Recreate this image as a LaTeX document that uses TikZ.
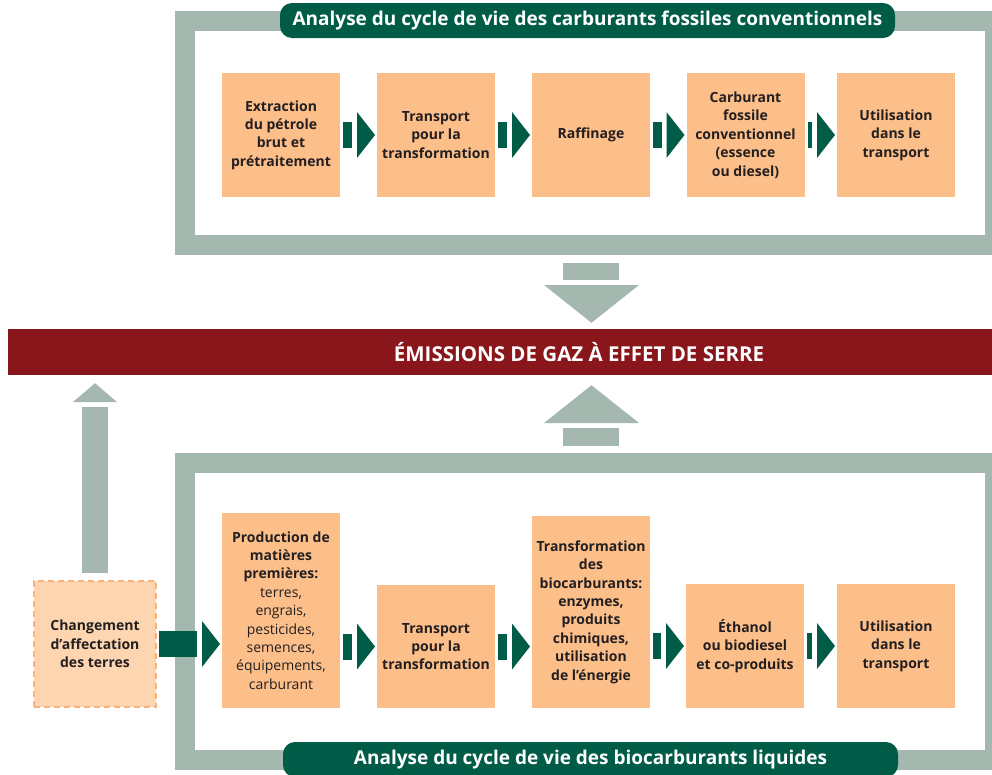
\documentclass[tikz,border=0pt]{standalone}
\usepackage{fontspec}
\setmainfont{Open Sans}
\usetikzlibrary{positioning,calc}
\definecolor{framegray}{RGB}{164,184,176}
\definecolor{lcagreen}{RGB}{0,92,70}
\definecolor{boxorange}{RGB}{252,191,138}
\definecolor{lucorange}{RGB}{253,214,177}
\definecolor{lucborder}{RGB}{248,178,122}
\definecolor{ghgred}{RGB}{137,22,27}
\definecolor{textdark}{RGB}{35,31,32}

\tikzset{
  lcaframe/.style={draw=framegray, line width=20pt, inner sep=0pt, outer sep=0pt, minimum width=810pt},
  lcatitle/.style={fill=lcagreen, rounded corners=12pt, minimum width=615pt, minimum height=35pt,
    inner sep=0pt, text=white, font=\fontsize{19}{21}\selectfont\bfseries},
  procbox/.style={fill=boxorange, minimum width=118pt, inner sep=0pt, outer sep=0pt, align=center,
    text=textdark, font=\fontsize{14}{18.4}\selectfont\bfseries},
}

% green block arrow between two steps
\newcommand{\flowarrow}[2]{%
  \fill[lcagreen] ($(#1)+(3,-13)$) rectangle ($(#2)+(-25,13)$);
  \fill[lcagreen] ($(#2)+(-20,-23)$) -- ($(#2)+(-2,0)$) -- ($(#2)+(-20,23)$) -- cycle;}

\begin{document}
\begin{tikzpicture}[x=1pt, y=-1pt]
    \useasboundingbox (0,0) rectangle (992,774);

    % Life cycle frames
    \node[lcaframe, minimum height=224pt] (fossil) at (590,133) {};
    \node[lcaframe, minimum height=297.5pt] (bio) at (590,611.25) {};
    \node[lcatitle] (fossiltitle) at (587.5,20.5) {Analyse du cycle de vie des carburants fossiles conventionnels};
    \node[lcatitle] (biotitle) at (590.5,759.5) {Analyse du cycle de vie des biocarburants liquides};

    % Emissions bar
    \node[fill=ghgred, minimum width=984pt, minimum height=46pt, inner sep=0pt] (ghg) at (500,352) {};
    \node[text=white, font=\fontsize{20.5}{22}\selectfont\bfseries] (ghglabel) at (579,352) {ÉMISSIONS DE GAZ À EFFET DE SERRE};

    % Land use change
    \node[fill=lucorange, draw=lucborder, line width=2.5pt, dash pattern=on 6pt off 4pt,
        minimum width=122pt, minimum height=126pt, inner sep=0pt, outer sep=0pt, align=center,
        text=textdark, font=\fontsize{14}{18.4}\selectfont\bfseries] (luc) at (95,644)
        {Changement\\d’affectation\\des terres};

    % Gray arrows to the emissions
    \fill[framegray] ($(fossil.south)+(-27,18)$) rectangle ($(fossil.south)+(29,35)$);
    \fill[framegray] ($(fossil.south)+(-46,40)$) -- ($(fossil.south)+(49,40)$) -- ($(fossil.south |- ghg.north)+(1.5,-6)$) -- cycle;
    \fill[framegray] ($(bio.north)+(-27,-34.5)$) rectangle ($(bio.north)+(29,-16.5)$);
    \fill[framegray] ($(bio.north)+(-46,-39.5)$) -- ($(bio.north)+(49,-39.5)$) -- ($(bio.north |- ghg.south)+(1.5,10)$) -- cycle;
    \fill[framegray] ($(luc.north)+(-13,-8)$) rectangle ($(luc.north)+(13,-174)$);
    \fill[framegray] ($(luc.north)+(-22,-179)$) -- ($(luc.north)+(22,-179)$) -- ($(luc.north |- ghg.south)+(0,8)$) -- cycle;

    % Fossil fuel chain
    \node[procbox, minimum height=124pt] (extract) at (281,135) {Extraction\\du pétrole\\brut et\\prétraitement};
    \node[procbox, minimum height=124pt] (transp) at (436,135) {Transport\\pour la\\transformation};
    \node[procbox, minimum height=124pt] (refine) at (591,135) {Raffinage};
    \node[procbox, minimum height=124pt] (fossilfuel) at (745.5,135) {Carburant\\fossile\\conventionnel\\(essence\\ou diesel)};
    \node[procbox, minimum height=124pt] (fossiluse) at (896,135) {Utilisation\\dans le\\transport};

    \flowarrow{extract.east}{transp.west}
    \flowarrow{transp.east}{refine.west}
    \flowarrow{refine.east}{fossilfuel.west}
    \flowarrow{fossilfuel.east}{fossiluse.west}

    % Biofuel chain
    \node[procbox, minimum height=195pt] (prod) at (281,610.5) {Production de\\matières\\premières:\\
        \mdseries terres,\\\mdseries engrais,\\\mdseries pesticides,\\\mdseries semences,\\
        \mdseries équipements,\\\mdseries carburant};
    \node[procbox, minimum height=123pt] (biotransp) at (436,646.5) {Transport\\pour la\\transformation};
    \node[procbox, minimum height=192pt] (conv) at (591,612) {Transformation\\des\\biocarburants:\\enzymes,\\produits\\chimiques,\\utilisation\\de l’énergie};
    \node[procbox, minimum height=124pt] (ethanol) at (745,646) {Éthanol\\ou biodiesel\\et co-produits};
    \node[procbox, minimum height=124pt] (biouse) at (896,646) {Utilisation\\dans le\\transport};

    \flowarrow{luc.east}{prod.west |- luc.east}
    \flowarrow{prod.east |- biotransp.west}{biotransp.west}
    \flowarrow{biotransp.east}{conv.west |- biotransp.east}
    \flowarrow{conv.east |- ethanol.west}{ethanol.west}
    \flowarrow{ethanol.east}{biouse.west}
\end{tikzpicture}
\end{document}
